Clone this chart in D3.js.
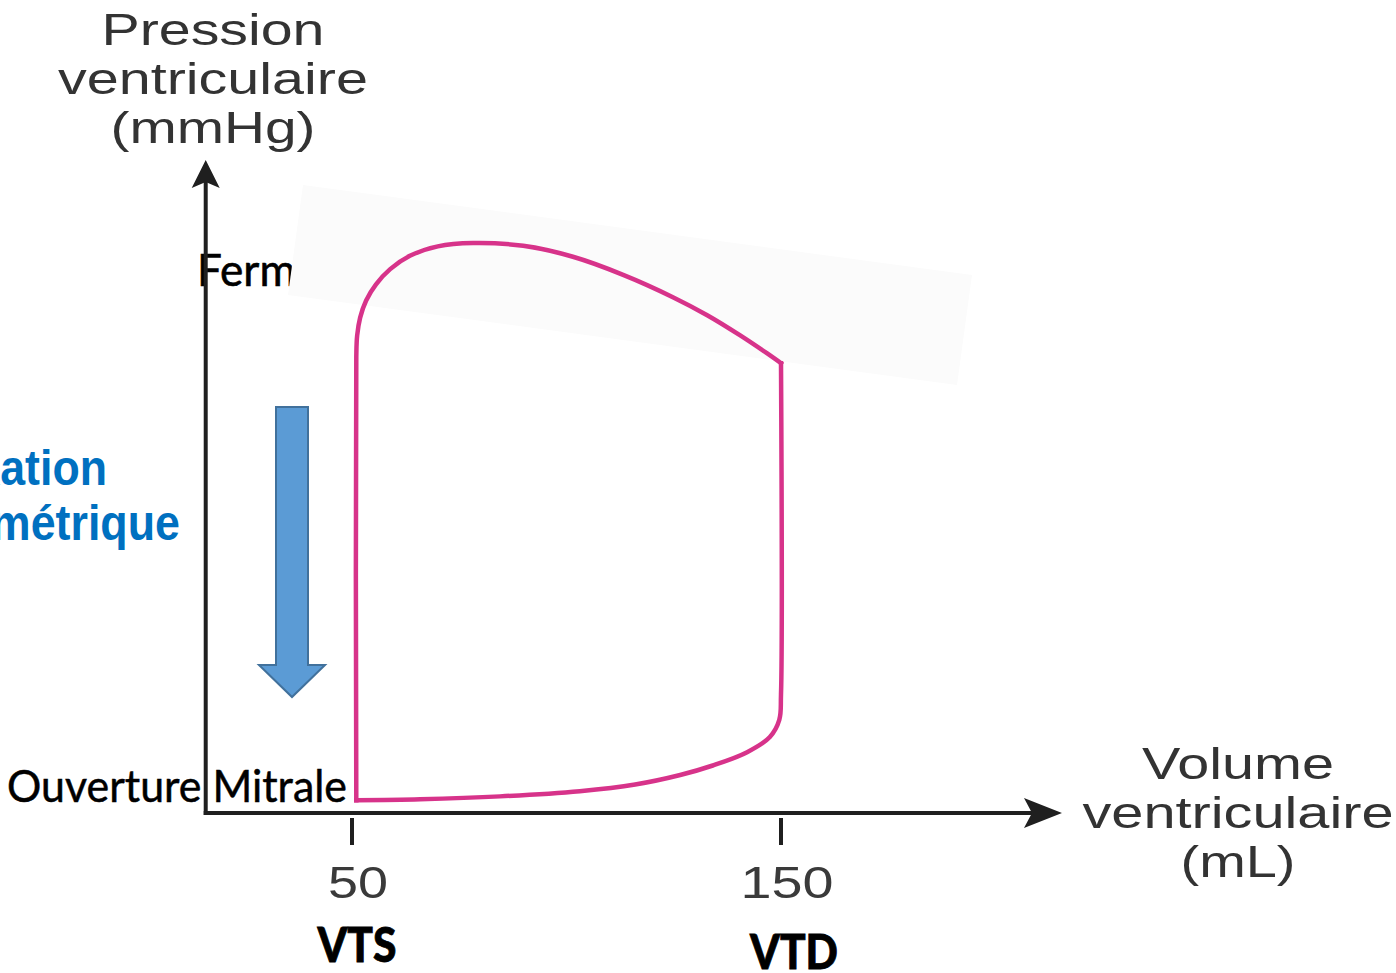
<!DOCTYPE html>
<html><head><meta charset="utf-8">
<script src="https://cdn.jsdelivr.net/npm/d3@7"></script>
<style>html,body{margin:0;padding:0;background:#fff;overflow:hidden}</style>
</head><body>
<svg id="c" width="1396" height="973"></svg>
<script>
// ---- data ----
const xTicks = [50, 150];
const tickLabels = ["50", "150"];
const volumeNames = ["VTS", "VTD"];
// filling + isovolumic contraction (mL, mmHg)
const fillVol  = [51.0, 65.9, 84.5, 103.1, 116.0, 126.5, 134.1, 142.1, 147.4, 149.6, 150, 150];
const fillPres = [2.7, 2.9, 3.5, 4.6, 6.0, 8.0, 10.0, 12.8, 16.0, 19.6, 25, 94.7];
// ejection + isovolumic relaxation
const ejectVol  = [150, 146.7, 140.4, 132.8, 124.8, 113.2, 101.5, 89.9, 78.2, 70.0, 63.5, 58.9, 55.6, 53.3, 51.9, 51.2, 51.0, 51.0];
const ejectPres = [94.7, 96.8, 100.6, 104.8, 108.6, 113.3, 117.1, 119.4, 120.0, 119.3, 117.3, 114.5, 111.3, 107.9, 104.3, 100.5, 96, 2.7];
const yTitle = ["Pression", "ventriculaire", "(mmHg)"];
const xTitle = ["Volume", "ventriculaire", "(mL)"];
const valveLabels = ["Ferme", "Ouverture Mitrale"];
const phaseLabel = ["Relaxation", "isovolumétrique"];

// ---- scales ----
const x = d3.scaleLinear().domain([50, 150]).range([352, 781]);
const y = d3.scaleLinear().domain([0, 120]).range([813, 243]);
const svg = d3.select("#c");
const axisCol = "#1f1f1f", pink = "#d7338a";

// "Ferme" label (partially hidden behind patch)
svg.append("text").attr("x", 197).attr("y", 286)
  .attr("font-family", "Lato, 'Open Sans', sans-serif").attr("font-size", 45)
  .attr("stroke", "#000").attr("stroke-width", 0.6)
  .attr("textLength", 122).attr("lengthAdjust", "spacingAndGlyphs")
  .attr("fill", "#000").text(valveLabels[0]);

// faint rotated patch
svg.append("polygon").attr("points", "303,185 972,275 957,385 288,295")
  .attr("fill", "#fbfbfb");

// axes
const x0 = x(15.9), x1 = x(215.5);
const yTop = y(137.5);
svg.append("line").attr("x1", x0).attr("x2", x0).attr("y1", y(0) + 2).attr("y2", yTop + 20)
  .attr("stroke", axisCol).attr("stroke-width", 4);
svg.append("line").attr("x1", x0 - 2).attr("x2", x1 - 22).attr("y1", y(0)).attr("y2", y(0))
  .attr("stroke", axisCol).attr("stroke-width", 4);
// arrowheads
svg.append("path").attr("d", `M${x0},${yTop} L${x0 + 14},${yTop + 28} L${x0},${yTop + 22} L${x0 - 14},${yTop + 28} Z`)
  .attr("fill", axisCol);
svg.append("path").attr("d", `M${x1},${y(0)} L${x1 - 38},${y(0) - 15} L${x1 - 30},${y(0)} L${x1 - 38},${y(0) + 15} Z`)
  .attr("fill", axisCol);

// ticks
svg.selectAll(".tk").data(xTicks).join("line")
  .attr("x1", d => x(d)).attr("x2", d => x(d)).attr("y1", y(0) + 5).attr("y2", y(0) + 32)
  .attr("stroke", axisCol).attr("stroke-width", 4);
const tickW = [60, 93];
svg.selectAll(".tl").data(xTicks).join("text")
  .attr("x", d => x(d) + 6).attr("y", 898).attr("text-anchor", "middle")
  .attr("font-family", "'Liberation Sans', Arial, sans-serif").attr("font-size", 45)
  .attr("fill", "#3a3a3a")
  .attr("textLength", (d, i) => tickW[i]).attr("lengthAdjust", "spacingAndGlyphs")
  .text((d, i) => tickLabels[i]);
const nameW = [79, 88], nameY = [962, 969], nameDx = [5, 13];
svg.selectAll(".vn").data(xTicks).join("text")
  .attr("x", (d, i) => x(d) + nameDx[i]).attr("y", (d, i) => nameY[i]).attr("text-anchor", "middle")
  .attr("font-family", "Lato, 'Open Sans', sans-serif").attr("font-weight", 900).attr("font-size", 48)
  .attr("fill", "#000").attr("stroke", "#000").attr("stroke-width", 0.8)
  .attr("textLength", (d, i) => nameW[i]).attr("lengthAdjust", "spacingAndGlyphs")
  .text((d, i) => volumeNames[i]);

// axis titles
const yTW = [223, 310, 205];
yTitle.forEach((t, i) => {
  svg.append("text").attr("x", 213).attr("y", 45 + i * 49).attr("text-anchor", "middle")
    .attr("font-family", "'Liberation Sans', Arial, sans-serif").attr("font-size", 45)
    .attr("fill", "#333").attr("textLength", yTW[i]).attr("lengthAdjust", "spacingAndGlyphs").text(t);
});
const xTW = [192, 311, 115];
xTitle.forEach((t, i) => {
  svg.append("text").attr("x", 1238).attr("y", 779 + i * 49).attr("text-anchor", "middle")
    .attr("font-family", "'Liberation Sans', Arial, sans-serif").attr("font-size", 45)
    .attr("fill", "#333").attr("textLength", xTW[i]).attr("lengthAdjust", "spacingAndGlyphs").text(t);
});

// PV loop
const line = d3.line().x(d => x(d[0])).y(d => y(d[1])).curve(d3.curveCatmullRom.alpha(0.5));
const fillPts = fillVol.map((v, i) => [v, fillPres[i]]);
const ejectPts = ejectVol.map((v, i) => [v, ejectPres[i]]);
[fillPts, ejectPts].forEach(p => {
  svg.append("path").attr("d", line(p)).attr("fill", "none")
    .attr("stroke", pink).attr("stroke-width", 4.5).attr("stroke-linecap", "square");
});

// Ouverture Mitrale label
svg.append("text").attr("x", 7).attr("y", 802)
  .attr("font-family", "Lato, 'Open Sans', sans-serif").attr("font-size", 44)
  .attr("stroke", "#000").attr("stroke-width", 0.5)
  .attr("textLength", 340).attr("lengthAdjust", "spacingAndGlyphs")
  .attr("fill", "#000").text(valveLabels[1]);

// blue phase label (cut at left edge)
const phW = [226, 346], phX = [107, 180], phY = [485, 540];
phaseLabel.forEach((t, i) => {
  svg.append("text").attr("x", phX[i]).attr("y", phY[i]).attr("text-anchor", "end")
    .attr("font-family", "'Liberation Sans', Arial, sans-serif").attr("font-weight", 700).attr("font-size", 50)
    .attr("fill", "#0070c0").attr("textLength", phW[i]).attr("lengthAdjust", "spacingAndGlyphs").text(t);
});

// blue down arrow
svg.append("path")
  .attr("d", "M276,407 L308,407 L308,665 L325,665 L292,697 L259,665 L276,665 Z")
  .attr("fill", "#5b9bd5").attr("stroke", "#41719c").attr("stroke-width", 2);
</script>
</body></html>
